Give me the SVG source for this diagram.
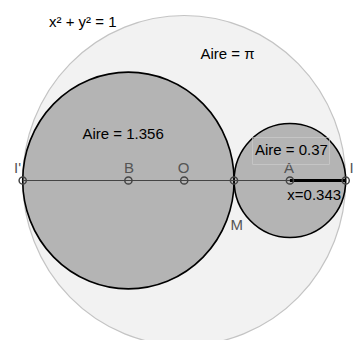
<svg xmlns="http://www.w3.org/2000/svg" width="361" height="340" viewBox="0 0 361 340">
<style>
text{font-family:"Liberation Sans",Arial,sans-serif;font-size:15px;}
.lbl{fill:#000;}
.pt{fill:#555;}
.pm{fill:none;stroke:#444;stroke-width:1.5;}
.disk{fill:#b4b4b4;stroke:#000;stroke-width:1.6;}
</style>
<rect width="361" height="340" fill="#fff"/>
<g id="unit-circle">
<ellipse cx="184.2" cy="180.5" rx="161.5" ry="165" fill="#f2f2f2" stroke="#c4c4c4" stroke-width="1.2"/>
</g>
<g id="circle-B">
<ellipse class="disk" cx="128.4" cy="180.5" rx="105.7" ry="108.4"/>
</g>
<g id="circle-A">
<ellipse class="disk" cx="289.9" cy="180.5" rx="55.8" ry="57"/>
</g>
<g id="connectors">
<line x1="22.7" y1="180.5" x2="345.7" y2="180.5" stroke="#444" stroke-width="1.2"/>
<line x1="289.9" y1="180.5" x2="345.7" y2="180.5" stroke="#000" stroke-width="3"/>
</g>
<g id="point-Iprime"><circle class="pm" cx="22.7" cy="180.5" r="3.6"/><text class="pt" x="14" y="173">I'</text></g>
<g id="point-B"><circle class="pm" cx="128.4" cy="180.5" r="3.6"/><text class="pt" x="129" y="173" text-anchor="middle">B</text></g>
<g id="point-O"><circle class="pm" cx="184.2" cy="180.5" r="3.6"/><text class="pt" x="183.5" y="173" text-anchor="middle">O</text></g>
<g id="point-M"><circle class="pm" cx="234" cy="180.5" r="3.6"/><text class="pt" x="230.5" y="229.5">M</text></g>
<g id="point-A"><circle class="pm" cx="289.9" cy="180.5" r="3.6"/><text class="pt" x="289" y="172.5" text-anchor="middle">A</text></g>
<g id="point-I"><circle class="pm" cx="345.7" cy="180.5" r="3.6"/><text class="pt" x="349.5" y="173">I</text></g>
<g id="labels">
<text class="lbl" x="49" y="27">x² + y² = 1</text>
<text class="lbl" x="200.5" y="58.5">Aire = π</text>
<text class="lbl" x="82.5" y="138.5">Aire = 1.356</text>
<rect x="252.7" y="137.3" width="76.6" height="27" fill="none" stroke="#d0d0d0" stroke-width="0.6"/>
<text class="lbl" x="255" y="155">Aire = 0.37</text>
<text class="lbl" x="287.3" y="199.5">x=0.343</text>
</g>
</svg>
